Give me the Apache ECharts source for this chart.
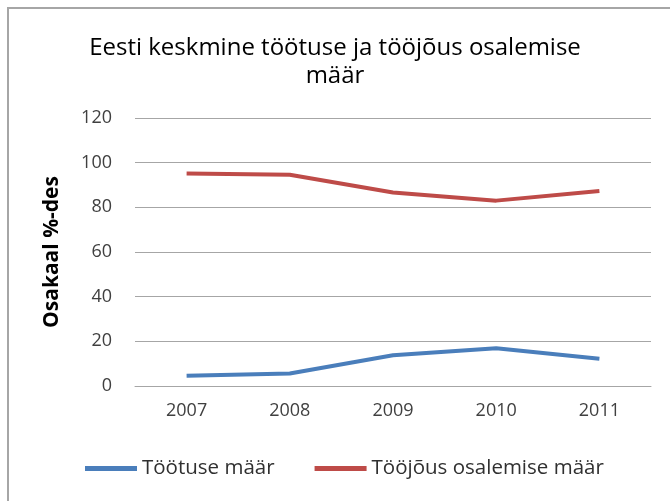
<!DOCTYPE html>
<html>
<head>
<meta charset="utf-8">
<script src="https://cdn.jsdelivr.net/npm/echarts@6/dist/echarts.min.js"></script>
<style>html,body{margin:0;padding:0;background:#fff}#c{width:670px;height:501px}</style>
</head>
<body>
<div id="c"></div>
<script>
var years = ['2007', '2008', '2009', '2010', '2011'];
var tootuseMaar = [4.6, 5.6, 13.8, 16.9, 12.2];
var toojousMaar = [95.1, 94.6, 86.6, 83.0, 87.3];
var seriesNames = ['Töötuse määr', 'Tööjõus osalemise määr'];
var chartTitle = 'Eesti keskmine töötuse ja tööjõus osalemise\nmäär';
var yAxisTitle = 'Osakaal %-des';

var FONT = '"Open Sans"';
var chart = echarts.init(document.getElementById('c'), null, {renderer: 'canvas'});
chart.setOption({
  backgroundColor: '#ffffff',
  animation: false,
  graphic: [{
    type: 'rect', left: 7, top: 7, z: -1,
    shape: {width: 700, height: 600},
    style: {fill: '#ffffff', stroke: '#a6a6a6', lineWidth: 2}
  }],
  title: {
    text: chartTitle,
    left: 'center',
    top: 29,
    textStyle: {fontFamily: FONT, fontSize: 24, fontWeight: 'normal', color: '#000000', lineHeight: 28}
  },
  legend: {
    left: 80,
    top: 453,
    itemWidth: 52,
    itemHeight: 5,
    itemGap: 40,
    icon: 'rect',
    textStyle: {fontFamily: FONT, fontSize: 20.5, color: '#303030'},
    data: seriesNames
  },
  grid: {left: 135, right: 19, top: 118, bottom: 115, containLabel: false},
  xAxis: {
    type: 'category',
    data: years,
    boundaryGap: true,
    axisLine: {show: true, lineStyle: {color: '#a6a6a6', width: 1}},
    axisTick: {show: false},
    axisLabel: {fontFamily: FONT, fontSize: 18, color: '#404040', margin: 16}
  },
  yAxis: {
    type: 'value',
    min: 0, max: 120, interval: 20,
    name: yAxisTitle,
    nameLocation: 'middle',
    nameGap: 72,
    nameRotate: 90,
    nameTextStyle: {fontFamily: FONT, fontSize: 21, fontWeight: 'bold', color: '#000000'},
    axisLine: {show: false},
    axisTick: {show: false},
    axisLabel: {fontFamily: FONT, fontSize: 18, color: '#404040', margin: 23},
    splitLine: {lineStyle: {color: '#a6a6a6', width: 1}}
  },
  series: [{
    name: seriesNames[0],
    type: 'line',
    data: tootuseMaar,
    symbol: 'none',
    lineStyle: {color: '#4a7ebb', width: 4},
    itemStyle: {color: '#4a7ebb'}
  }, {
    name: seriesNames[1],
    type: 'line',
    data: toojousMaar,
    symbol: 'none',
    lineStyle: {color: '#be4b48', width: 4},
    itemStyle: {color: '#be4b48'}
  }]
});
</script>
</body>
</html>
